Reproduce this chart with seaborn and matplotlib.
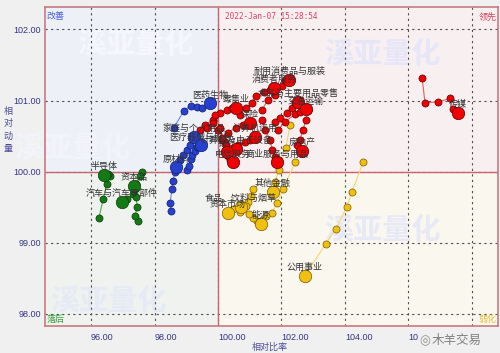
import numpy as np
import pandas as pd
import matplotlib.pyplot as plt
import seaborn as sns
from matplotlib.patches import Rectangle

sns.set_style("white")
plt.rcParams['font.family'] = ['Noto Sans CJK SC', 'DejaVu Sans']

# RRG tails, oldest point first, newest (big dot) last
# leading quadrant (red)
red_names = ['传媒', '耐用消费品与服装', '消费者服务', '食品与主要用品零售', '交通运输', '零售业',
             '保险', '计算机运用', '计算机及电子设备', '银行', '房地产', '电信服务', '商业服务与用品']
red_x = [[106.43, 106.52, 106.93, 107.31, 107.40, 107.56],
         [101.39, 101.57, 101.80, 102.02, 102.11, 102.24],
         [100.69, 100.88, 101.07, 101.20, 101.45, 101.64, 101.76],
         [101.80, 101.95, 102.17, 102.33, 102.43, 102.52],
         [101.89, 102.11, 102.43, 102.58, 102.77],
         [99.59, 99.84, 100.06, 100.28, 100.44, 100.57],
         [100.13, 100.31, 100.57, 100.79, 101.01],
         [100.38, 100.63, 100.85, 101.01, 101.17],
         [99.43, 99.65, 99.84, 100.00, 100.22, 100.57],
         [99.91, 100.06, 100.13, 100.25, 100.28],
         [102.83, 102.77, 102.68, 102.58, 102.49, 102.65],
         [100.22, 100.31, 100.38, 100.47],
         [101.39, 101.48, 101.64, 101.70, 101.80, 101.86]]
red_y = [[101.32, 100.97, 100.98, 101.03, 100.88, 100.83],
         [100.87, 101.01, 101.08, 101.21, 101.29, 101.29],
         [100.80, 100.90, 100.97, 101.07, 101.12, 101.15, 101.18],
         [100.70, 100.76, 100.83, 100.90, 100.96, 100.98],
         [100.59, 100.70, 100.81, 100.84, 100.88],
         [100.66, 100.73, 100.83, 100.87, 100.90, 100.90],
         [100.45, 100.55, 100.62, 100.65, 100.69],
         [100.31, 100.38, 100.42, 100.45, 100.49],
         [100.58, 100.62, 100.69, 100.59, 100.42, 100.32],
         [100.80, 100.62, 100.48, 100.37, 100.28],
         [100.87, 100.73, 100.59, 100.45, 100.38, 100.29],
         [100.31, 100.22, 100.17, 100.13],
         [100.73, 100.59, 100.45, 100.31, 100.21, 100.13]]

# improving quadrant (blue)
blue_names = ['医药生物', '家庭与个人用品', '医疗器械与服务', '原材料']
blue_x = [[98.61, 98.93, 99.15, 99.34, 99.50, 99.75],
          [98.80, 98.90, 99.02, 99.12, 99.24],
          [99.02, 99.09, 99.15, 99.18, 99.28, 99.34, 99.46],
          [98.52, 98.49, 98.55, 98.58, 98.65, 98.68]]
blue_y = [[100.62, 100.86, 100.93, 100.91, 100.90, 100.96],
          [100.17, 100.24, 100.31, 100.38, 100.49],
          [100.03, 100.08, 100.18, 100.24, 100.29, 100.35, 100.37],
          [99.45, 99.56, 99.76, 99.87, 100.00, 100.06]]

# lagging quadrant (green)
green_names = ['半导体', '汽车与汽车零部件', '资本品']
green_x = [[96.25, 96.38, 96.50, 96.60, 96.54, 96.41],
           [97.61, 97.54, 97.42, 97.32, 97.13, 96.98],
           [97.48, 97.39, 97.45, 97.42, 97.39, 97.35]]
green_y = [[99.35, 99.61, 99.82, 99.94, 99.97, 99.96],
           [100.00, 99.94, 99.83, 99.68, 99.61, 99.58],
           [99.31, 99.37, 99.51, 99.65, 99.75, 99.80]]

# weakening quadrant (yellow)
yellow_names = ['公用事业', '其他金融', '能源', '食品、饮料与烟草', '资本市场']
yellow_x = [[104.57, 104.22, 104.06, 103.72, 103.40, 102.74],
            [102.27, 102.14, 101.92, 101.80, 101.73],
            [102.43, 102.05, 101.86, 101.70, 101.51, 101.35],
            [101.10, 101.04, 100.94, 100.88, 100.72],
            [101.23, 101.10, 100.98, 100.69, 100.47, 100.31]]
yellow_y = [[100.13, 99.72, 99.51, 99.20, 98.99, 98.54],
            [100.66, 100.34, 100.03, 99.86, 99.72],
            [100.13, 99.76, 99.56, 99.42, 99.37, 99.26],
            [99.75, 99.66, 99.58, 99.52, 99.51],
            [99.31, 99.35, 99.41, 99.44, 99.47, 99.42]]

x_ticks = [96, 98, 100, 102, 104, 106, 108]
y_ticks = [98, 99, 100, 101, 102]
stamp = '2022-Jan-07 15:28:54'

groups = [
    (blue_names, blue_x, blue_y, '#2840d0', '#6f86e6', '#10206a'),
    (green_names, green_x, green_y, '#147a14', '#4caf4c', '#0a3a0a'),
    (yellow_names, yellow_x, yellow_y, '#f0c010', '#f2d870', '#7a5a00'),
    (red_names, red_x, red_y, '#f00000', '#e86060', '#5a0000'),
]

fig = plt.figure(figsize=(5, 3.53), dpi=100, facecolor='#f0f0f0')
ax = fig.add_axes([0.09, 0.0765, 0.906, 0.9025])
x0, x1, y0, y1 = 94.55, 108.82, 97.83, 102.31
ax.set_xlim(x0, x1)
ax.set_ylim(y0, y1)

# quadrant backgrounds
ax.fill_between([x0, 100], 100, y1, color='#eef0f8', lw=0, zorder=0)
ax.fill_between([100, x1], 100, y1, color='#f8eff0', lw=0, zorder=0)
ax.fill_between([x0, 100], y0, 100, color='#eff2ee', lw=0, zorder=0)
ax.fill_between([100, x1], y0, 100, color='#faf7ef', lw=0, zorder=0)

# watermarks
for wx, wy, wc in [(0.2, 0.885, '#f6f7fd'), (0.745, 0.855, '#e6e6f8'), (0.745, 0.3, '#e8e9f6'),
                   (0.14, 0.08, '#e6eaf6'), (0.06, 0.56, '#f2f4fa')]:
    ax.text(wx, wy, '溪亚量化', transform=ax.transAxes, fontsize=21, fontweight='bold',
            color=wc, ha='center', va='center', zorder=0.5)

ax.set_xticks(x_ticks)
ax.set_yticks(y_ticks)
ax.set_xticklabels(['%.2f' % v for v in x_ticks], ha='left', family='Liberation Sans',
                   fontsize=6.5, color='#34348a')
ax.set_yticklabels(['%.2f' % v for v in y_ticks], family='Liberation Sans',
                   fontsize=6.5, color='#34348a')
ax.tick_params(length=0, pad=3)
ax.tick_params(axis='x', pad=5)
ax.grid(True, ls=(0, (2, 3)), color='#505050', lw=0.8, zorder=1)
ax.set_axisbelow(True)
for s in ax.spines.values():
    s.set_color('#c87a80')
    s.set_linewidth(1.2)
ax.axvline(100, color='#c86470', lw=1, zorder=2)
ax.axhline(100, color='#c86470', lw=1, zorder=2)

for names, xs_all, ys_all, fill, line, edge in groups:
    for name, xs, ys in zip(names, xs_all, ys_all):
        sns.lineplot(x=xs, y=ys, sort=False, estimator=None, color=line, lw=0.8, ax=ax, zorder=3)
        sns.scatterplot(x=xs[:-1], y=ys[:-1], s=26, color=fill, edgecolor=edge, linewidth=0.5,
                        ax=ax, zorder=4)
        sns.scatterplot(x=[xs[-1]], y=[ys[-1]], s=80, color=fill, edgecolor=edge, linewidth=0.5,
                        ax=ax, zorder=5)
        ax.annotate(name, (xs[-1], ys[-1]), xytext=(0, 6), textcoords='offset points',
                    ha='center', va='center', fontsize=6.5, color='#333333', zorder=6)

ax.set_xlabel('')
ax.set_ylabel('')

# corner and header texts
ax.text(0.003, 0.985, '改善', transform=ax.transAxes, fontsize=6.5, color='#4a5ee0', va='top')
ax.text(0.997, 0.985, '领先', transform=ax.transAxes, fontsize=6.5, color='#e0405a', va='top', ha='right')
ax.text(0.003, 0.005, '落后', transform=ax.transAxes, fontsize=6.5, color='#3aa03a', va='bottom')
ax.text(0.997, 0.005, '弱化', transform=ax.transAxes, fontsize=6.5, color='#e8c040', va='bottom', ha='right')
ax.text(0.5, 0.985, stamp, transform=ax.transAxes, fontsize=5.6, color='#e0406a', va='top',
        ha='center', family='DejaVu Sans Mono')

fig.text(0.016, 0.632, '相\n对\n动\n量', fontsize=6.5, color='#4a4a9a', ha='center', va='center',
         linespacing=1.5)
fig.text(0.54, 0.017, '相对比率', fontsize=6.5, color='#4a4a9a', ha='center', va='center')

# account logo in the bottom-right corner, laid over the last tick labels
fig.patches.append(Rectangle((0.836, 0.0), 0.164, 0.07, transform=fig.transFigure,
                             facecolor='#f0f0f0', edgecolor='none', zorder=9))
fig.text(0.914, 0.036, '木羊交易', fontsize=9, color='#808080', ha='center', va='center', zorder=10)
fig.text(0.849, 0.036, '◎', fontsize=9, color='#909090', ha='center', va='center',
         family='DejaVu Sans', zorder=10)

fig.savefig('out.png', dpi=100, facecolor=fig.get_facecolor())
